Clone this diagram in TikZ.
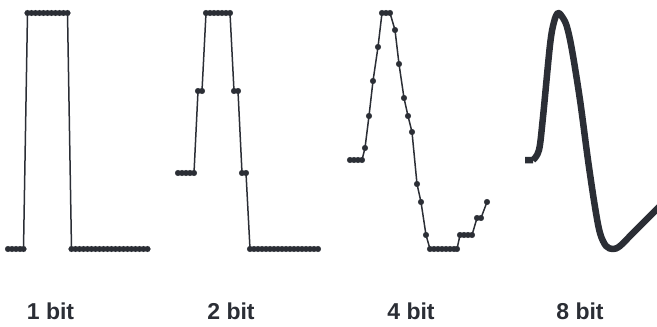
\documentclass[tikz,border=0pt]{standalone}
\usepackage{fontspec}
\setmainfont{Liberation Sans}
\definecolor{ink}{RGB}{43,46,53}
\begin{document}
\begin{tikzpicture}[x=1pt,y=-1pt,
  sig/.style={draw=ink,line width=1.5pt,mark=*,mark size=2.9pt,mark options={fill=ink,draw=ink,line width=0.2pt}},
  smoothsig/.style={draw=ink,line width=6.5pt,line join=round},
  lbl/.style={font=\bfseries\fontsize{23}{26}\selectfont,text=ink,anchor=base,inner sep=0pt}]
\useasboundingbox (0,0) rectangle (657,327);
\begin{scope}
\clip (0,0) rectangle (657,327);
% 1 bit
\draw[sig] plot coordinates {(8,249)(12,249)(16,249)(20,249)(23.5,249)
 (27.5,13)(31.5,13)(35.5,13)(39.5,13)(43.5,13)(47.5,13)(51.5,13)(55.5,13)(59.5,13)(63.5,13)(67.5,13)
 (71.5,249)(75.5,249)(79.5,249)(83.5,249)(87.5,249)(91.5,249)(95.5,249)(99.5,249)(103.5,249)(107.5,249)
 (111.5,249)(115.5,249)(119.5,249)(123.5,249)(127.5,249)(131.5,249)(135.5,249)(139.5,249)(143.5,249)(147.5,249)};
% 2 bit
\draw[sig] plot coordinates {(178,173)(182,173)(186,173)(190,173)(194,173)
 (198,91)(202,91)
 (206,13)(210,13)(214,13)(218,13)(222,13)(226,13)(230,13)
 (234,91)(238,91)
 (242,173)(246,173)
 (250,249)(254,249)(258,249)(262,249)(266,249)(270,249)(274,249)(278,249)(282,249)(286,249)
 (290,249)(294,249)(298,249)(302,249)(306,249)(310,249)(314,249)(318,249)};
% 4 bit
\draw[sig] plot coordinates {(350,160)(354,160)(358,160)(362,160)(365,148)(369,116)(373,81)(378,47)
 (382,13)(386,13)(390,13)(395,30)(399,64)(404,98)(408,116)(412,132)(417,184)(421,202)(426,235)
 (430,249)(434,249)(438,249)(442,249)(446,249)(450,249)(454,249)(457,249)
 (460,235)(464,235)(468,235)(472,235)(477,218)(481,218)(487,202)};
% 8 bit
\draw[smoothsig] (525,160) -- (533,160)
  plot[smooth,tension=0.55] coordinates {(533,160)(539,150)(543,117)(550,45)(554,22)(558,13)(563,18)(567,27)(572,50)(580,100)(588,160)(595,207)(600,233)(606,246)(613,249)(620,246)(633,233)(660,206)};
\end{scope}
\node[lbl] (l1) at (50.5,319) {1 bit};
\node[lbl] (l2) at (231,319) {2 bit};
\node[lbl] (l4) at (411,319) {4 bit};
\node[lbl] (l8) at (580,319) {8 bit};
\end{tikzpicture}
\end{document}
